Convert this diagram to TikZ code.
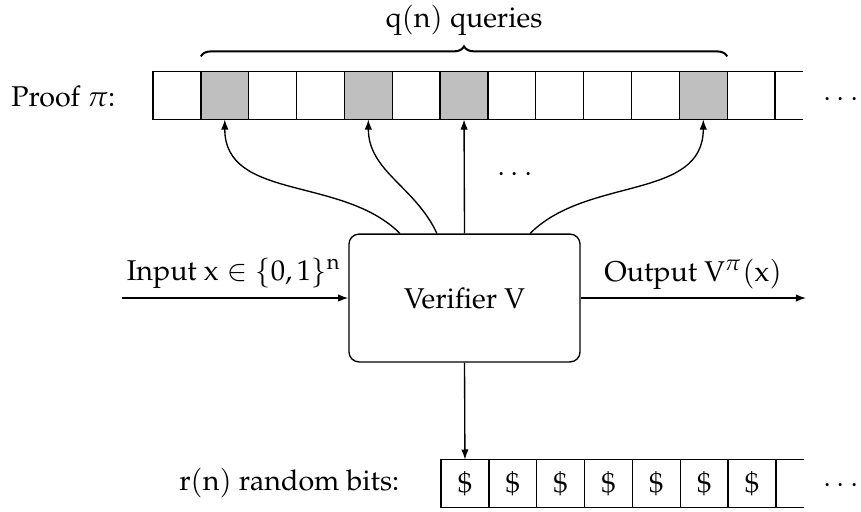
\documentclass[tikz,border=0pt]{standalone}
\usepackage[T1]{fontenc}
\usepackage{mathpazo}
\usetikzlibrary{arrows.meta,decorations.pathreplacing}
\begin{document}
\begin{tikzpicture}[x=0.29727pt,y=-0.29727pt,
  font=\fontsize{8.5pt}{10pt}\selectfont,
  >={Latex[length=3pt,width=2.2pt]},
  cellbox/.style={draw,minimum width=0.5cm,minimum height=0.5cm,inner sep=0pt,outer sep=0pt},
  greycell/.style={cellbox,fill=gray!50},
  verbox/.style={draw,rounded corners=3pt,minimum width=68.7pt,minimum height=38pt,inner sep=0pt},
  lbl/.style={inner sep=0pt,anchor=base}]
\useasboundingbox (0,0) rectangle (861,511);
% proof tape
\foreach \k in {0,...,12}{
  \node[cellbox] (p\k) at ({153+(\k+0.5)*47.85},95.5) {};
}
\foreach \k in {1,4,6,11}{
  \node[greycell] at (p\k) {};
}
\draw (p12.north east) -- ++(28,0);
\draw (p12.south east) -- ++(28,0);
\node[lbl,anchor=base east] (prooflbl) at (116,106) {Proof $\pi$:};
\node[lbl] (pdots) at (841,106) {$\cdots$};
% brace
\draw[semithick,decorate,decoration={brace,amplitude=3pt}]
  ([yshift=4.5pt]p1.north west) -- ([yshift=4.5pt]p11.north east)
  node[midway,lbl,yshift=8.5pt] (qlbl) {$\mathrm{q}(\mathrm{n})$ queries};
% verifier
\node[verbox] (V) at (464.5,298) {Verifier $\mathrm{V}$};
\draw[->] ([xshift=-19.2pt]V.north) to[out=135,in=-90] (p1.south);
\draw[->] ([xshift=-8.2pt]V.north) to[out=115,in=-90] (p4.south);
\draw[->] (V.north) -- (p6.south);
\draw[->] ([xshift=19.5pt]V.north) to[out=45,in=-90] (p11.south);
\node[lbl] (mdots) at (515,181) {$\cdots$};
% input / output
\coordinate (inL) at (122,298);
\coordinate (outR) at (806,298);
\draw[->] (inL) -- (V.west);
\draw[->] (V.east) -- (outR);
\node[lbl] (inlbl) at (234,280) {Input $\mathrm{x}\in\{0,1\}^{\mathrm{n}}$};
\node[lbl] (outlbl) at (693,281) {Output $\mathrm{V}^{\pi}(\mathrm{x})$};
% random tape
\foreach \k in {0,...,6}{
  \node[cellbox] (r\k) at ({441+(\k+0.5)*47.85},483.5) {\$};
}
\draw (r6.north east) -- ++(28,0);
\draw (r6.south east) -- ++(28,0);
\draw[->] (V.south) -- (r0.north);
\node[lbl,anchor=base east] (rlbl) at (400,490) {$\mathrm{r}(\mathrm{n})$ random bits:};
\node[lbl] (rdots) at (841,492) {$\cdots$};
\end{tikzpicture}
\end{document}
